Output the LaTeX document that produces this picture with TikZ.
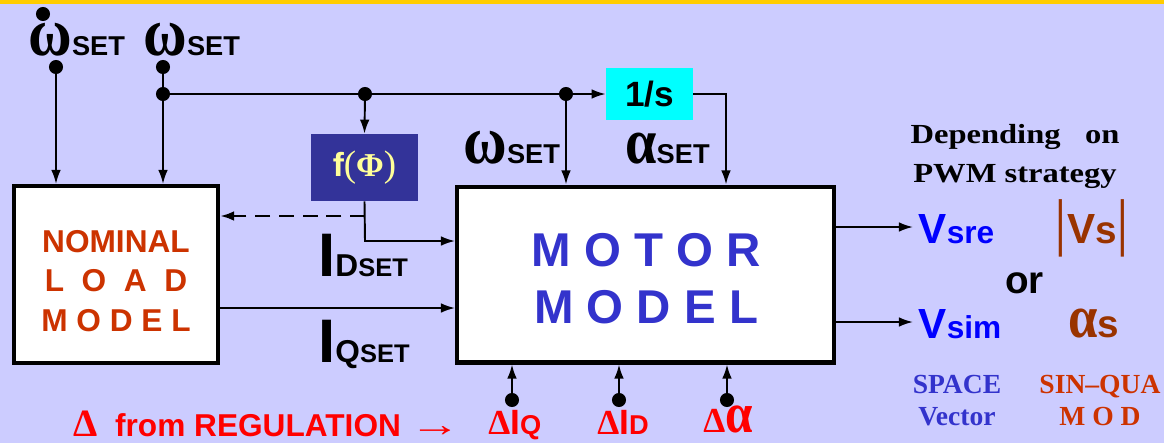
\documentclass[tikz,border=0pt]{standalone}
\usepackage{fontspec}
\usepackage{graphicx}
\setmainfont{Liberation Sans}
\newfontfamily\symb{Liberation Serif}
\usetikzlibrary{arrows.meta}

\definecolor{lavender}{HTML}{CCCCFF}
\definecolor{topbar}{HTML}{FFCC00}
\definecolor{loadred}{HTML}{CC3300}
\definecolor{motorblue}{HTML}{3333CC}
\definecolor{fphibg}{HTML}{333399}
\definecolor{ftext}{HTML}{FFFF99}
\definecolor{integbg}{HTML}{00FFFF}
\definecolor{vbrown}{HTML}{993300}
\definecolor{vblue}{HTML}{0000FF}
\definecolor{regred}{HTML}{FF0000}

\newcommand{\fsz}[1]{\fontsize{#1}{#1}\selectfont}
\newcommand{\grk}[2]{{\symb\fsz{#1}\scalebox{1}[1.15]{#2}}}

\begin{document}
\begin{tikzpicture}[x=0.02cm, y=-0.02cm, >={Latex[length=8pt,width=5.5pt]},
    wire/.style={line width=1.1pt},
    block/.style={draw, line width=2.3pt, fill=white, inner sep=0pt},
    lbl/.style={inner sep=0pt, anchor=base west, font=\bfseries},
    ctr/.style={inner sep=0pt, anchor=base, font=\bfseries}]

    % 1. Background and top stripe
    \fill[lavender] (0,0) rectangle (1164,443);
    \fill[topbar] (0,0) rectangle (1164,4);
    \useasboundingbox (0,0) rectangle (1164,443);

    % 2. Blocks
    \node[block, minimum width=4.08cm, minimum height=3.54cm] (load) at (116,274.5) {};
    \node[block, minimum width=7.54cm, minimum height=3.52cm] (motor) at (645.5,274.5) {};
    \node[fill=fphibg, minimum width=2.14cm, minimum height=1.34cm, inner sep=0pt,
        text=ftext, font=\bfseries] (fphi) at (364.5,167.5)
        {\fsz{19pt}f{\symb\mdseries\fsz{21pt}(}{\symb Φ}{\symb\mdseries\fsz{21pt})}};
    \node[fill=integbg, minimum width=1.74cm, minimum height=1.06cm, inner sep=0pt,
        font=\bfseries] (integ) at (649.5,94) {\fsz{20pt}1/s};

    % block texts
    \node[align=center, text=loadred, font=\bfseries\fontsize{18pt}{22.4pt}\selectfont]
        (loadtxt) at (116,281) {NOMINAL\\L\ \ O\ \ A\ \ D\\M O D E L};
    \node[align=center, text=motorblue, font=\bfseries\fontsize{27pt}{32.3pt}\selectfont]
        (motortxt) at (646,278.5) {M O T O R\\M O D E L};

    % 3. Junctions and bends
    \coordinate (wdotmark) at (43,14);
    \coordinate (wdotin) at (56,67);
    \coordinate (win) at (163,67);
    \coordinate (wsplit) at (163,94);
    \coordinate (fsplit) at (365,94);
    \coordinate (msplit) at (566,94);
    \coordinate (alphaturn) at (726,94);
    \coordinate (ftap) at (365,216);
    \coordinate (fturn) at (365,241);
    \coordinate (iqrow) at (300,308);
    \coordinate (vrerow) at (870,227);
    \coordinate (vimrow) at (870,322);
    \coordinate (dIq) at (512,400);
    \coordinate (dId) at (619,400);
    \coordinate (dal) at (727,400);

    % 4. Labels
    \node[lbl] (wdotset) at (28,55) {\grk{34pt}{ω}\fsz{15.5pt}SET};
    \node[lbl] (wset) at (143,55) {\grk{34pt}{ω}\fsz{15.5pt}SET};
    \node[lbl] (msetlbl) at (463,163) {\grk{34pt}{ω}\fsz{15.5pt}SET};
    \node[lbl] (asetlbl) at (625,163) {\grk{32pt}{α}\fsz{15.5pt}SET};
    \node[lbl] (idlbl) at (318,276) {\fsz{35pt}I\fsz{18pt}D\fsz{14.5pt}SET};
    \node[lbl] (iqlbl) at (318,362) {\fsz{35pt}I\fsz{18pt}Q\fsz{14.5pt}SET};

    \node[lbl, inner xsep=3pt, text=vblue] (vsre) at (913,243) {\fsz{24pt}V\fsz{18pt}sre};
    \node[lbl, inner xsep=3pt, text=vblue] (vsim) at (913,338) {\fsz{24pt}V\fsz{18pt}sim};
    \node[lbl, text=vbrown] (vsabs) at (1054,243)
        {{\symb\mdseries\fsz{36pt}|}\fsz{24pt}V\fsz{22pt}s{\symb\mdseries\fsz{36pt}|}};
    \node[lbl] (orlbl) at (1005,293) {\fsz{22pt}or};
    \node[lbl, text=vbrown] (alphas) at (1068,337) {\grk{30pt}{α}\fsz{22pt}s};

    \node[ctr] (dep1) at (1015,143) {\symb\fsz{15.7pt}\scalebox{1.18}[1]{Depending\ \ \ on}};
    \node[ctr] (dep2) at (1015,182) {\symb\fsz{15.7pt}\scalebox{1.18}[1]{PWM strategy}};
    \node[ctr, text=motorblue] (space1) at (957,393) {\symb\fsz{15.7pt}SPACE};
    \node[ctr, text=motorblue] (space2) at (957,425) {\symb\fsz{15.7pt}Vector};
    \node[ctr, text=loadred] (sinq1) at (1100,393) {\symb\fsz{15.7pt}SIN–QUA};
    \node[ctr, text=loadred] (sinq2) at (1100,425) {\symb\fsz{15.7pt}M O D};

    \node[lbl, text=regred] (reglbl) at (73,436)
        {{\symb\fsz{22pt}Δ}\fsz{18pt}\ \ from REGULATION {\symb\fsz{20pt}\scalebox{1.45}[1]{→}}};
    \node[lbl, text=regred] (diqlbl) at (488,434) {{\symb\fsz{20pt}Δ}\fsz{20pt}I\fsz{15.5pt}Q};
    \node[lbl, text=regred] (didlbl) at (597,434) {{\symb\fsz{20pt}Δ}\fsz{20pt}I\fsz{15.5pt}D};
    \node[lbl, text=regred] (dallbl) at (703,432) {{\symb\fsz{20pt}Δ}\grk{28pt}{α}};

    % 5. Connectors
    \draw[wire,->] (wdotin) -- (wdotin |- load.north);
    \draw[wire,->] (win) -- (win |- load.north);
    \draw[wire,->] (wsplit) -- (integ.west);
    \draw[wire,->] (fsplit) -- (fphi.north);
    \draw[wire,->] (msplit) -- (msplit |- motor.north);
    \draw[wire,->] (integ.east) -- (alphaturn) -- (alphaturn |- motor.north);
    \draw[wire,->] (fphi.south) -- (fturn) -- (fturn -| motor.west);
    \draw[line width=1.5pt, dash pattern=on 8.5pt off 5pt, ->] (ftap) -- (ftap -| load.east);
    \draw[wire,->] (load.east |- iqrow) -- (motor.west |- iqrow);
    \draw[wire,->] (motor.east |- vrerow) -- (vsre.west |- vrerow);
    \draw[wire,->] (motor.east |- vimrow) -- (vsim.west |- vimrow);
    \foreach \pt in {dIq, dId, dal}
        \draw[wire,->] (\pt) -- (\pt |- motor.south);

    % 6. Dots
    \foreach \pt in {wdotmark, wdotin, win, wsplit, fsplit, msplit, dIq, dId, dal}
        \fill (\pt) circle (4pt);

\end{tikzpicture}
\end{document}
